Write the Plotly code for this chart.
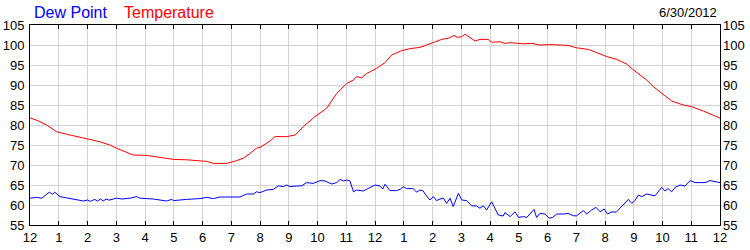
import plotly.graph_objects as go

# Hours since midnight 6/30/2012
temp_hours = [0.0, 0.3, 0.6, 0.93, 1.39, 1.97, 2.14, 2.43, 2.78, 3.01, 3.3, 3.59, 4.06, 4.52, 4.99, 5.45,
              5.91, 6.15, 6.38, 6.84, 7.19, 7.42, 7.65, 7.88, 8.0, 8.23, 8.35, 8.52, 8.93, 9.22, 9.51,
              9.91, 10.32, 10.67, 11.02, 11.25, 11.36, 11.54, 11.71, 11.83, 12.06, 12.35, 12.58, 12.93,
              13.22, 13.57, 14.03, 14.32, 14.55, 14.75, 14.86, 15.02, 15.13, 15.30, 15.48, 15.65, 15.94,
              16.06, 16.35, 16.52, 16.7, 17.16, 17.45, 17.74, 18.09, 18.72, 19.01, 19.42, 19.71, 20.06,
              20.41, 20.76, 20.99, 21.45, 21.68, 22.03, 22.32, 22.72, 23.01, 23.42, 23.77, 24.0]
temp_vals = [81.8, 81.0, 79.9, 78.3, 77.5, 76.7, 76.3, 75.8, 75.0, 74.2, 73.3, 72.5, 72.4, 71.9, 71.4, 71.3,
             71.0, 70.9, 70.4, 70.4, 71.1, 71.7, 72.9, 74.2, 74.4, 75.4, 76.0, 77.1, 77.1, 77.5, 79.6,
             82.1, 84.2, 87.9, 90.4, 91.25, 92.1, 91.8, 92.9, 93.3, 94.2, 95.6, 97.5, 98.6,
             99.1, 99.4, 100.6, 101.4, 101.7, 102.4, 101.9, 102.1, 102.7, 101.9, 101.0, 101.4, 101.4,
             100.7, 100.8, 100.4, 100.6, 100.3, 100.4, 100.0, 100.1, 99.9, 99.3, 98.9, 98.1, 97.1,
             96.4, 95.2, 93.75, 91.25, 89.6, 87.5, 86.0, 85.0, 84.6, 83.5, 82.5, 81.7]

dew_hours = [0.0, 0.23, 0.41, 0.67, 0.78, 0.86, 1.04, 1.39, 1.86, 2.0, 2.1, 2.25, 2.35, 2.45, 2.55, 2.65,
             2.75, 2.9, 3.01, 3.2, 3.48, 3.71, 3.83, 4.29, 4.75, 4.93, 4.99, 5.45, 5.91, 6.15, 6.38,
             6.61, 6.84, 7.19, 7.30, 7.54, 7.77, 7.88, 8.0, 8.23, 8.46, 8.64, 8.81, 8.93, 9.04, 9.27,
             9.45, 9.62, 9.85, 10.09, 10.26, 10.49, 10.67, 10.78, 10.9, 11.02, 11.13, 11.25, 11.36,
             11.59, 11.83, 12.0, 12.17, 12.27, 12.35, 12.52, 12.75, 12.87, 12.99, 13.10, 13.33, 13.45,
             13.56, 13.68, 13.74, 13.91, 14.03, 14.14, 14.26, 14.38, 14.49, 14.61, 14.72, 14.90, 15.02,
             15.19, 15.36, 15.53, 15.65, 15.77, 15.88, 16.06, 16.17, 16.29, 16.46, 16.52, 16.70, 16.87,
             16.99, 17.16, 17.28, 17.39, 17.53, 17.62, 17.74, 17.91, 18.06, 18.18, 18.32, 18.55, 18.72,
             18.90, 19.01, 19.25, 19.36, 19.53, 19.69, 19.83, 19.97, 20.09, 20.24, 20.39, 20.64, 20.81,
             20.93, 21.04, 21.16, 21.28, 21.45, 21.63, 21.74, 21.85, 21.97, 22.09, 22.20, 22.32, 22.44,
             22.61, 22.78, 22.96, 23.13, 23.30, 23.48, 23.65, 23.83, 24.0]
dew_vals = [61.7, 61.9, 61.7, 63.2, 62.7, 63.2, 62.1, 61.7, 61.0, 61.25, 60.9, 61.4, 61.0, 61.5, 61.0, 61.5,
            61.2, 61.5, 61.7, 61.5, 61.7, 62.1, 61.7, 61.5, 61.0, 61.4, 61.1, 61.4, 61.6, 61.9, 61.6,
            62.0, 62.0, 62.1, 62.0, 62.75, 62.75, 63.3, 63.1, 63.75, 63.9, 64.8, 64.6, 65.0, 64.6, 64.75,
            64.8, 65.6, 65.4, 66.1, 66.0, 65.25, 65.6, 66.4, 66.0, 66.25, 66.0, 63.3, 63.75,
            63.5, 64.3, 65.0, 64.75, 64.0, 65.2, 63.6, 63.6, 63.9, 64.6, 64.1, 64.1, 63.2,
            63.75, 63.5, 62.75, 61.25, 62.1, 61.1, 61.5, 61.7, 60.4, 61.7, 59.6, 62.9, 61.25,
            61.1, 59.8, 59.75, 59.2, 59.8, 58.75, 60.8, 59.2, 57.5, 57.25, 58.1, 57.1, 58.3,
            56.9, 57.1, 56.9, 57.9, 58.9, 56.9, 57.9, 57.75, 56.7, 56.9, 57.75, 57.75, 57.9,
            57.3, 57.3, 58.6, 57.75, 58.75, 59.4, 58.3, 59.0, 57.75, 58.3, 58.2, 60.2, 61.4,
            60.4, 61.1, 62.5, 62.1, 62.75, 62.5, 62.3, 63.3, 64.4, 63.5, 64.1, 63.3, 64.4,
            65.0, 64.75, 66.1, 65.6, 65.6, 65.6, 66.1, 65.8, 65.6]

x_tickvals = list(range(0, 25))
x_ticktext = ["12", "1", "2", "3", "4", "5", "6", "7", "8", "9", "10", "11",
              "12", "1", "2", "3", "4", "5", "6", "7", "8", "9", "10", "11", "12"]
y_tickvals = list(range(55, 106, 5))

FONT = "Liberation Sans, Arial, sans-serif"

fig = go.Figure()
fig.add_trace(go.Scatter(x=dew_hours, y=dew_vals, mode="lines", name="Dew Point",
                         line=dict(color="#0000ff", width=1)))
fig.add_trace(go.Scatter(x=temp_hours, y=temp_vals, mode="lines", name="Temperature",
                         line=dict(color="#ff0000", width=1)))
fig.add_trace(go.Scatter(x=[None], y=[None], yaxis="y2", showlegend=False, hoverinfo="skip"))

fig.update_layout(
    width=750, height=250,
    margin=dict(l=30, r=30, t=25, b=25, autoexpand=False),
    paper_bgcolor="white", plot_bgcolor="white",
    showlegend=False,
    font=dict(family=FONT, size=13, color="black"),
    xaxis=dict(range=[0, 24], tickvals=x_tickvals, ticktext=x_ticktext, automargin=False,
               showgrid=True, gridcolor="#d3d3d3", gridwidth=1,
               showline=True, linecolor="black", linewidth=1, mirror="ticks",
               ticks="inside", ticklen=4, tickcolor="black", zeroline=False,
               tickfont=dict(size=13, color="black", family=FONT)),
    yaxis=dict(range=[55, 105], tickvals=y_tickvals, automargin=False,
               showgrid=True, gridcolor="#d3d3d3", gridwidth=1,
               showline=True, linecolor="black", linewidth=1, mirror=True,
               ticks="", zeroline=False, ticklabelstandoff=2,
               tickfont=dict(size=13, color="black", family=FONT)),
    yaxis2=dict(range=[55, 105], tickvals=y_tickvals, overlaying="y", side="right", automargin=False,
                showgrid=False, showline=False, ticks="", zeroline=False, ticklabelstandoff=2,
                tickfont=dict(size=13, color="black", family=FONT)),
)

# convert annotation pixel positions to paper coordinates
pw, ph = 750 - 60, 250 - 50
anns = []
specs = [("Dew Point", 32, 12, "#0000ff", 16, "left"),
         ("Temperature", 122, 12, "#ff0000", 16, "left"),
         ("6/30/2012", 719, 13, "black", 13, "right")]
for text, px, py, col, sz, anc in specs:
    anns.append(dict(text=text, xref="paper", yref="paper",
                     x=(px - 30) / pw, y=(250 - 25 - py) / ph,
                     xanchor=anc, yanchor="middle", showarrow=False,
                     font=dict(color=col, size=sz, family=FONT)))
fig.update_layout(annotations=anns)

fig.write_html("out.html")
